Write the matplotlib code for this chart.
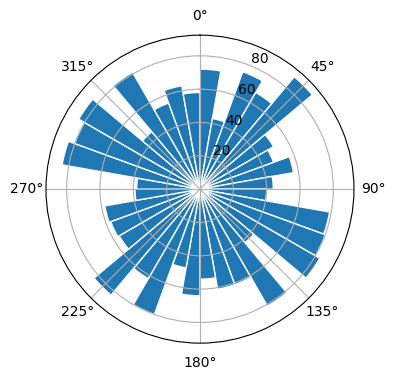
import numpy as np
import matplotlib
matplotlib.use("Agg")
import matplotlib.pyplot as plt

# bar start angles in degrees (10 degree sectors, clockwise from north)
angles_deg = list(range(0, 360, 10))
radii = [72, 43, 75, 67, 88, 51, 47, 57, 44,
         40, 79, 80, 83, 42, 81, 61, 61, 54,
         64, 48, 80, 62, 83, 56, 57, 58, 39,
         38, 84, 80, 84, 45, 81, 55, 63, 58]

theta = np.deg2rad(angles_deg)
width = np.deg2rad(10)

fig = plt.figure(figsize=(3.96, 3.8), dpi=100)
ax = fig.add_axes([0.116, 0.097, 0.778, 0.8105], projection="polar")
ax.set_theta_zero_location("N")
ax.set_theta_direction(-1)

ax.bar(theta, radii, width=width, align="edge", color="#1f77b4", edgecolor="white", linewidth=1)

fig.savefig("out.png", dpi=100)
